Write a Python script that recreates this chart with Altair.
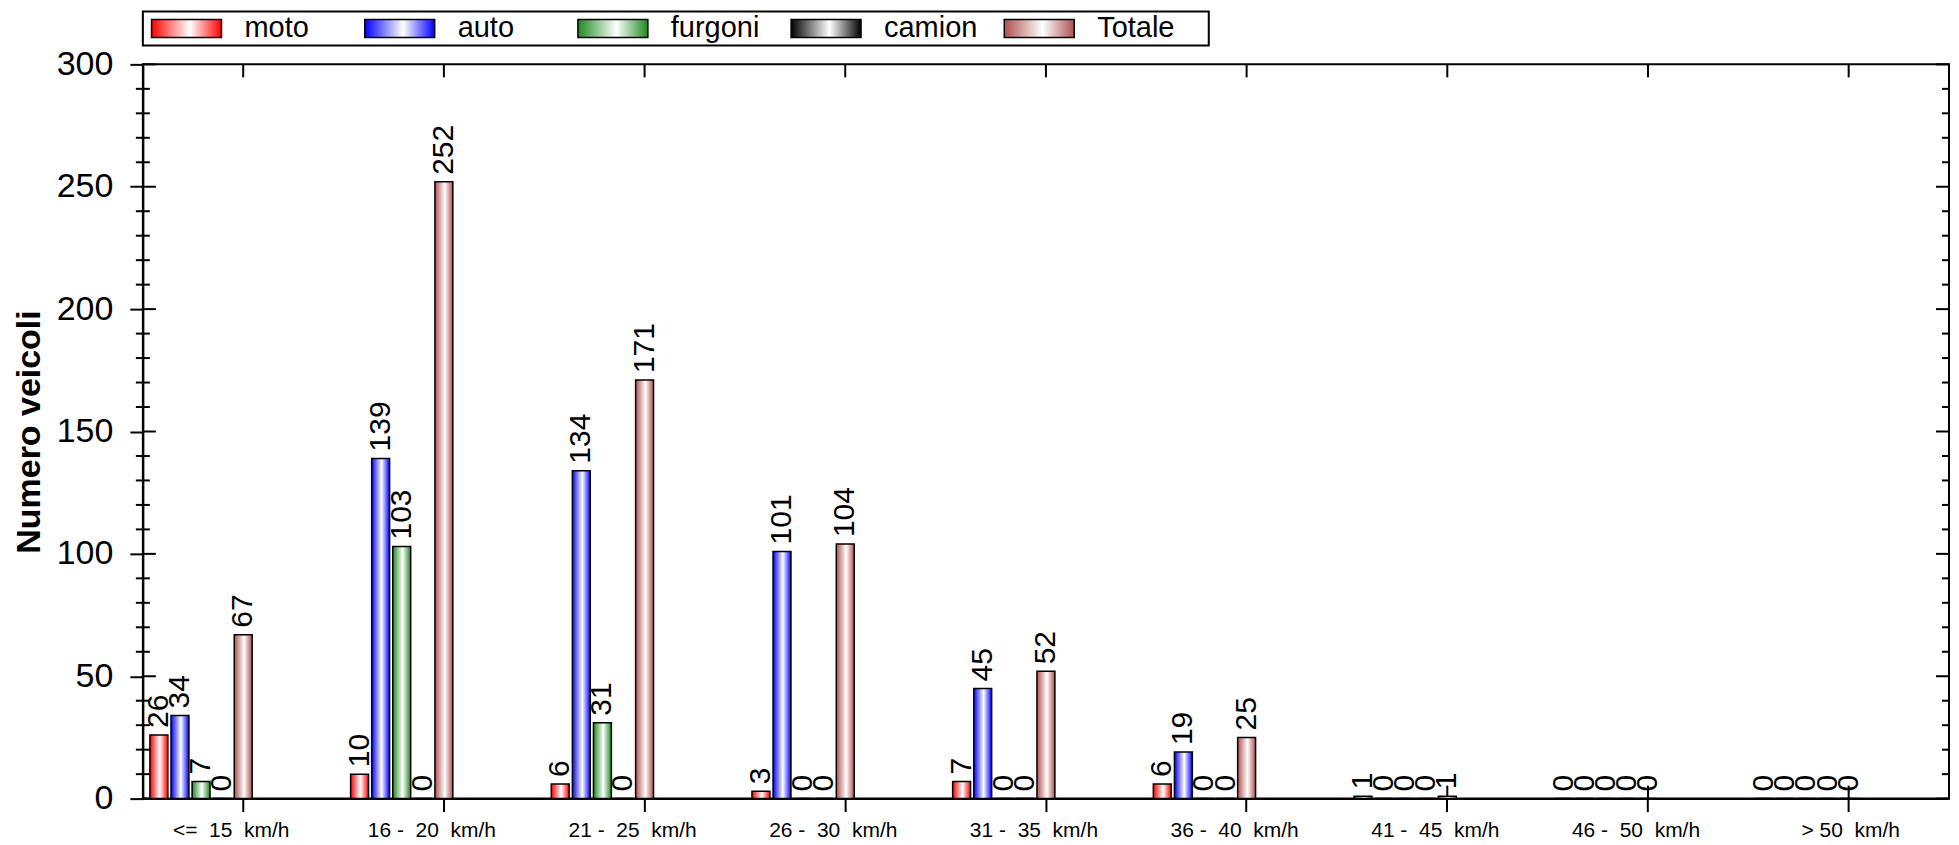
import altair as alt
import pandas as pd

NB = "\u00a0"
categories = [
    f"<={NB}{NB}15{NB}{NB}km/h",
    f"16{NB}-{NB}{NB}20{NB}{NB}km/h",
    f"21{NB}-{NB}{NB}25{NB}{NB}km/h",
    f"26{NB}-{NB}{NB}30{NB}{NB}km/h",
    f"31{NB}-{NB}{NB}35{NB}{NB}km/h",
    f"36{NB}-{NB}{NB}40{NB}{NB}km/h",
    f"41{NB}-{NB}{NB}45{NB}{NB}km/h",
    f"46{NB}-{NB}{NB}50{NB}{NB}km/h",
    f">{NB}50{NB}{NB}km/h",
]
series = ["moto", "auto", "furgoni", "camion", "Totale"]
moto = [26, 10, 6, 3, 7, 6, 1, 0, 0]
auto = [34, 139, 134, 101, 45, 19, 0, 0, 0]
furgoni = [7, 103, 31, 0, 0, 0, 0, 0, 0]
camion = [0, 0, 0, 0, 0, 0, 0, 0, 0]
totale = [67, 252, 171, 104, 52, 25, 1, 0, 0]
colors = ["#ff0000", "#0000ff", "#1e8a1e", "#000000", "#b04f4f"]
y_major = [0, 50, 100, 150, 200, 250, 300]
y_minor = [v for v in range(0, 301, 10) if v % 50 != 0]

values = {"moto": moto, "auto": auto, "furgoni": furgoni, "camion": camion, "Totale": totale}
rows = []
for s in series:
    for c, v in zip(categories, values[s]):
        rows.append({"cat": c, "series": s, "value": v})
df = pd.DataFrame(rows)
cat_df = pd.DataFrame({"cat": categories})
major_df = pd.DataFrame({"tick": y_major})
minor_df = pd.DataFrame({"tick": y_minor})
leg_df = pd.DataFrame({"name": series})

W, H = 1808, 735
TK = 13
MTK = 7


def grad(c):
    return alt.Gradient(
        gradient="linear",
        stops=[
            alt.GradientStop(color=c, offset=0),
            alt.GradientStop(color="white", offset=0.55),
            alt.GradientStop(color=c, offset=1),
        ],
        x1=0, x2=1, y1=0, y2=0,
    )


x_scale = alt.Scale(domain=categories, paddingInner=0, paddingOuter=0)
y_scale = alt.Scale(domain=[0, 300], nice=False, zero=True)
x_axis = alt.Axis(title=None, tickSize=TK, tickWidth=2, tickColor="black",
                  domainColor="black", domainWidth=2, labelFontSize=21,
                  labelPadding=8,
                  labelOffset={"condition": {"test": "slice(datum.label, 0, 1) == '>'", "value": 2}, "value": -12},
                  labelColor="black", labelAngle=0, grid=False)
y_axis = alt.Axis(title="Numero veicoli", values=y_major, tickSize=TK, tickWidth=2,
                  tickColor="black", domainColor="black", domainWidth=2,
                  labelFontSize=34, labelPadding=17, labelColor="black",
                  titleFontSize=34, titleFontWeight="bold", titleColor="black",
                  titlePadding=10, grid=False)

X = alt.X("cat:N", scale=x_scale, axis=x_axis, sort=categories)
offset_domain = series + ["_a", "_b", "_c", "_d"]
XO = alt.XOffset("series:N", scale=alt.Scale(domain=offset_domain, paddingInner=0.15, paddingOuter=0.335))
Y = alt.Y("value:Q", scale=y_scale, axis=y_axis)
YT = alt.Y("tick:Q", scale=y_scale, axis=y_axis)

layers = []
rule = dict(color="black", strokeWidth=2)
layers.append(alt.Chart(cat_df).mark_rule(**rule).encode(x=X, y=alt.value(H), y2=alt.value(H - TK)))
layers.append(alt.Chart(cat_df).mark_rule(**rule).encode(x=X, y=alt.value(0), y2=alt.value(TK)))
layers.append(alt.Chart(major_df).mark_rule(**rule).encode(y=YT, x=alt.value(0), x2=alt.value(TK)))
layers.append(alt.Chart(minor_df).mark_rule(**rule).encode(y=YT, x=alt.value(-MTK), x2=alt.value(MTK)))
layers.append(alt.Chart(major_df).mark_rule(**rule).encode(y=YT, x=alt.value(W - TK), x2=alt.value(W)))
layers.append(alt.Chart(minor_df).mark_rule(**rule).encode(y=YT, x=alt.value(W - MTK), x2=alt.value(W)))

for s, c in zip(series, colors):
    layers.append(
        alt.Chart(df)
        .transform_filter(alt.datum.series == s)
        .mark_bar(fill=grad(c), stroke="black", strokeWidth=1.5)
        .encode(x=X, xOffset=XO, y=Y)
    )

layers.append(
    alt.Chart(df)
    .mark_text(angle=270, align="left", baseline="middle", dx=7, fontSize=30, color="black")
    .encode(x=X, xOffset=XO, y=Y, text="value:Q")
)

main = alt.layer(*layers).properties(width=W, height=H)

LX = alt.X("name:N", sort=series, scale=alt.Scale(domain=series, paddingInner=0, paddingOuter=0), axis=None)
leg_layers = []
for s, c in zip(series, colors):
    leg_layers.append(
        alt.Chart(leg_df)
        .transform_filter(alt.datum.name == s)
        .mark_bar(width=70, xOffset=-63, fill=grad(c), stroke="black", strokeWidth=1.5)
        .encode(x=LX, y=alt.value(8), y2=alt.value(26))
    )
leg_layers.append(
    alt.Chart(leg_df)
    .mark_text(align="left", baseline="middle", dx=-5, fontSize=29, color="black")
    .encode(x=LX, y=alt.value(17), text="name:N")
)
legend = alt.layer(*leg_layers).properties(width=1067, height=34)

chart = (
    alt.vconcat(legend, main, spacing=0)
    .resolve_scale(x="independent", y="independent")
    .properties(padding={"left": 3, "top": 2, "right": 0, "bottom": 0})
    .configure(font="Liberation Sans")
    .configure_view(stroke="black", strokeWidth=2)
)

chart.save("out.html", embed_options={"renderer": "svg", "actions": False})
